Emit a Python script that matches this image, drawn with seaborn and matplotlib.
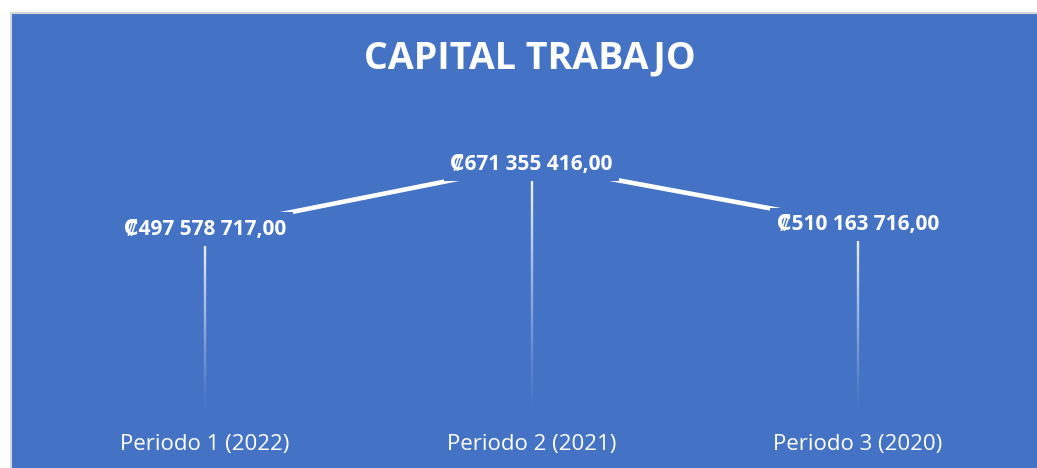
import numpy as np
import pandas as pd
import seaborn as sns
import matplotlib.pyplot as plt
from matplotlib.collections import LineCollection
from matplotlib.patches import Rectangle

categories = ["Periodo 1 (2022)", "Periodo 2 (2021)", "Periodo 3 (2020)"]
values = [497578717.00, 671355416.00, 510163716.00]
value_labels = ["₡497 578 717,00", "₡671 355 416,00", "₡510 163 716,00"]
title = "CAPITAL TRABAJO"

BLUE = "#4472C4"
W, H = 1037, 468

sns.set_theme(style="white")
plt.rcParams['font.family'] = ['Open Sans', 'DejaVu Sans']

fig = plt.figure(figsize=(W / 100, H / 100), dpi=100, facecolor='white')
bg = Rectangle((11 / W, -0.01), 1 - 11 / W + 0.01, (H - 13) / H + 0.01,
               transform=fig.transFigure, facecolor=BLUE,
               edgecolor='#d6d6d6', lw=1.5, zorder=-10)
fig.patches.append(bg)

ax = fig.add_axes([42 / W, (H - 415) / H, (1021 - 42) / W, (415 - 100) / H])
ax.set_zorder(5)
ax.set_facecolor('none')

df = pd.DataFrame({"periodo": categories, "valor": values})
sns.lineplot(data=df, x="periodo", y="valor", color='white', lw=3.3, ax=ax,
             sort=False, zorder=2)

ymin, ymax = 0, 843.6e6
ax.set_xlim(-0.5, 2.5)
ax.set_ylim(ymin, ymax)

# gradient drop lines
for i, v in enumerate(values):
    n = 60
    ys = np.linspace(v, ymin + 3e6, n + 1)
    segs = [[(i, ys[k]), (i, ys[k + 1])] for k in range(n)]
    alphas = np.linspace(1.0, 0.0, n) ** 1.2
    cols = [(1, 1, 1, a) for a in alphas]
    ax.add_collection(LineCollection(segs, colors=cols, linewidths=1.7, zorder=1))

for i, (v, lab) in enumerate(zip(values, value_labels)):
    ax.text(i, v, lab, ha='center', va='center', color='white', fontsize=15,
            fontweight='bold', zorder=5,
            bbox=dict(facecolor=BLUE, edgecolor='none', boxstyle='square,pad=0.3'))

for s in ax.spines.values():
    s.set_visible(False)
ax.set_yticks([])
ax.set_xlabel("")
ax.set_ylabel("")
ax.tick_params(axis='x', length=0, pad=14, labelcolor='white', labelsize=16)

fig.text(530 / W, 1 - 58 / H, title, ha='center', va='center', color='white',
         fontsize=27, fontweight='bold', zorder=6)

fig.savefig("out.png", dpi=100, facecolor='white')
